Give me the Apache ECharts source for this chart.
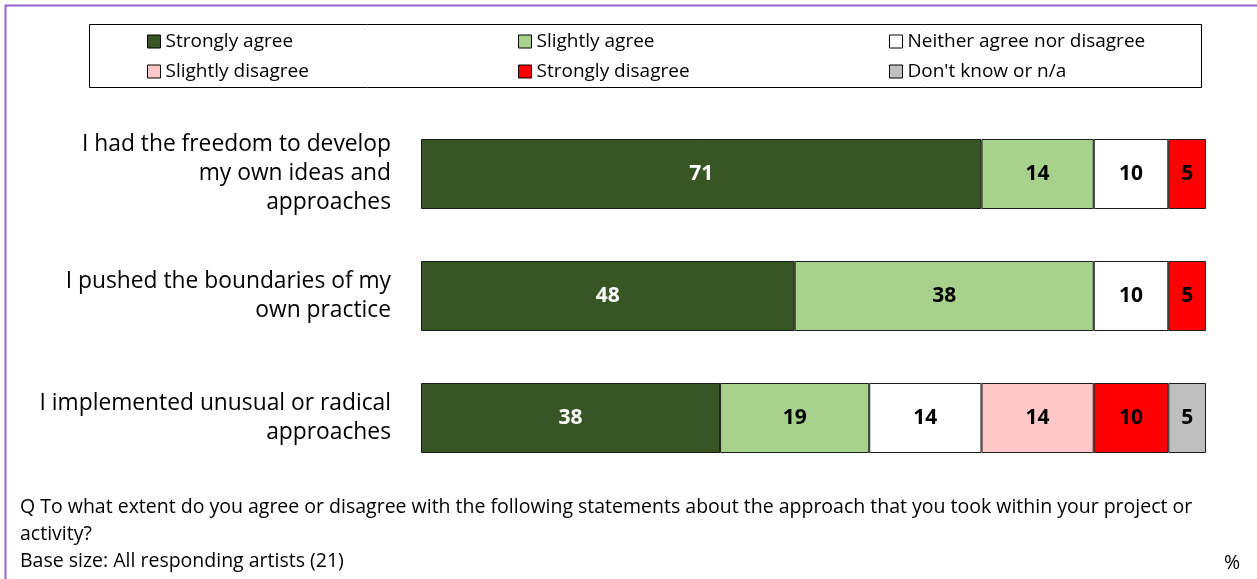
<!DOCTYPE html>
<html>
<head>
<meta charset="utf-8">
<script src="https://cdn.jsdelivr.net/npm/echarts@6/dist/echarts.min.js"></script>
<style>
  html, body { margin: 0; padding: 0; background: #fff; }
  #main { width: 1257px; height: 579px; }
</style>
</head>
<body>
<div id="main"></div>
<script>
// statements (top to bottom)
const categories = [
  'I had the freedom to develop\nmy own ideas and\napproaches',
  'I pushed the boundaries of my\nown practice',
  'I implemented unusual or radical\napproaches'
];
const seriesNames = ['Strongly agree', 'Slightly agree', 'Neither agree nor disagree',
  'Slightly disagree', 'Strongly disagree', "Don't know or n/a"];
// % of respondents, per statement
const stronglyAgree = [71.4, 47.6, 38.1];
const slightlyAgree = [14.3, 38.1, 19.0];
const neither = [9.5, 9.5, 14.3];
const slightlyDisagree = ['-', '-', 14.3];
const stronglyDisagree = [4.8, 4.8, 9.5];
const dontKnow = ['-', '-', 4.8];

const colorArr = ['#375623', '#A9D18E', '#FFFFFF', '#FFC7C7', '#FF0000', '#BFBFBF'];
const font = '"Open Sans", sans-serif';

const allData = [stronglyAgree, slightlyAgree, neither, slightlyDisagree, stronglyDisagree, dontKnow];

const chart = echarts.init(document.getElementById('main'));

function legendCol(left, names) {
  return {
    data: names,
    orient: 'vertical',
    left: left,
    top: 32,
    padding: 0,
    itemWidth: 13,
    itemHeight: 13,
    itemGap: 11,
    icon: 'rect',
    selectedMode: false,
    itemStyle: { borderColor: '#000', borderWidth: 1 },
    textStyle: { fontFamily: font, fontSize: 19, color: '#000' }
  };
}

const option = {
  color: colorArr,
  animation: false,
  textStyle: { fontFamily: font },
  legend: [
    legendCol(147, [seriesNames[0], seriesNames[3]]),
    legendCol(518, [seriesNames[1], seriesNames[4]]),
    legendCol(889, [seriesNames[2], seriesNames[5]])
  ],
  grid: { left: 421, right: 51, top: 113, bottom: 100 },
  xAxis: { type: 'value', min: 0, max: 100, show: false },
  yAxis: {
    type: 'category',
    inverse: true,
    data: categories,
    axisLine: { show: false },
    axisTick: { show: false },
    axisLabel: {
      margin: 30,
      fontFamily: font,
      fontSize: 22.8,
      lineHeight: 29,
      color: '#000',
      align: 'right'
    }
  },
  series: seriesNames.map((name, i) => ({
    name: name,
    type: 'bar',
    stack: 'total',
    barWidth: 70,
    data: allData[i],
    itemStyle: { borderColor: '#1a1a1a', borderWidth: 1 },
    label: {
      show: true,
      position: 'inside',
      fontFamily: font,
      fontSize: 21,
      fontWeight: 'bold',
      color: i === 0 ? '#fff' : '#000',
      formatter: p => Math.round(p.value)
    }
  })),
  graphic: [
    {
      type: 'rect',
      shape: { x: 5.5, y: 5.5, width: 1300, height: 620 },
      style: { fill: null, stroke: '#9364CC', lineWidth: 2 },
      silent: true
    },
    {
      type: 'rect',
      shape: { x: 89.5, y: 24.5, width: 1112, height: 63 },
      style: { fill: null, stroke: '#000', lineWidth: 1 },
      silent: true
    },
    {
      type: 'text', left: 20, top: 494,
      style: {
        text: 'Q To what extent do you agree or disagree with the following statements about the approach that you took within your project or\nactivity?\nBase size: All responding artists (21)',
        font: '19.5px ' + font, fill: '#000', lineHeight: 27
      }
    },
    {
      type: 'text', left: 1224, top: 550,
      style: { text: '%', font: '19.5px ' + font, fill: '#000', lineHeight: 27 }
    }
  ]
};

chart.setOption(option);
window.addEventListener('resize', chart.resize);
</script>
</body>
</html>
